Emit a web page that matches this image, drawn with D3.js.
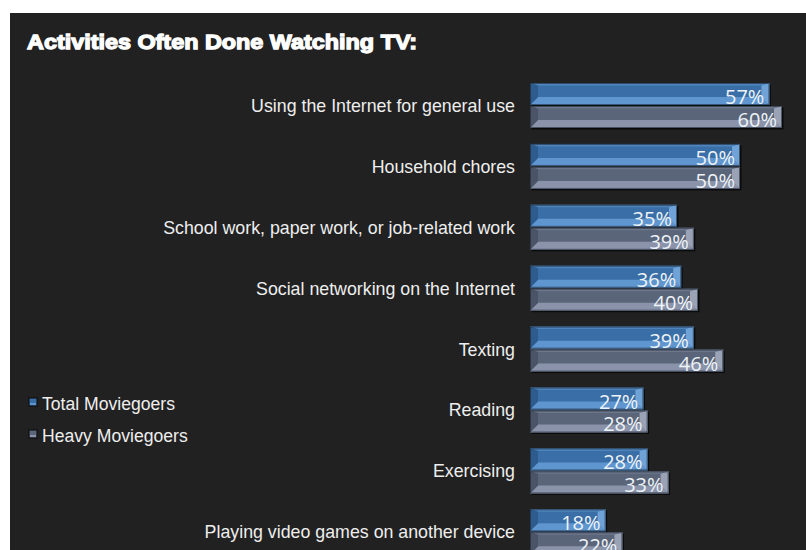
<!DOCTYPE html>
<html>
<head>
<meta charset="utf-8">
<script src="https://cdn.jsdelivr.net/npm/d3@7"></script>
<style>
  html, body { margin: 0; padding: 0; background: #ffffff; }
  svg { display: block; }
</style>
</head>
<body>
<svg id="chart" width="806" height="550"></svg>
<script>
// Activities people often do while watching TV, by moviegoer group (percent)
const categories = [
  "Using the Internet for general use",
  "Household chores",
  "School work, paper work, or job-related work",
  "Social networking on the Internet",
  "Texting",
  "Reading",
  "Exercising",
  "Playing video games on another device"
];
const seriesNames = ["Total Moviegoers", "Heavy Moviegoers"];
const totalMoviegoers = [57, 50, 35, 36, 39, 27, 28, 18];
const heavyMoviegoers = [60, 50, 39, 40, 46, 28, 33, 22];
const titleText = "Activities Often Done Watching TV:";

const W = 806, H = 550;
const svg = d3.select("#chart");

// dark panel
svg.append("rect").attr("x", 10).attr("y", 13).attr("width", W - 10).attr("height", H - 13)
  .attr("fill", "#212121");

// title
svg.append("text")
  .attr("x", 27).attr("y", 49)
  .attr("fill", "#ffffff").attr("stroke", "#ffffff").attr("stroke-width", 1.3)
  .attr("font-family", "'Liberation Sans', Arial, sans-serif")
  .attr("font-weight", 900).attr("font-size", 21)
  .attr("textLength", 390).attr("lengthAdjust", "spacingAndGlyphs")
  .text(titleText);

const x = d3.scaleLinear().domain([0, 60]).range([530, 782]);
const y = d3.scaleBand().domain(categories).range([83, 554.3]).paddingInner(0.261).paddingOuter(0).align(0);
const ySub = d3.scaleBand().domain(seriesNames).range([0, y.bandwidth()]).paddingInner(0.04);

// bevel shades per series
const shades = {
  "Total Moviegoers": { top: "#4f84bb", face: "#3a6ea6", bottom: "#5f96cf", left: "#2d5b8d", right: "#6fa3d8" },
  "Heavy Moviegoers": { top: "#6d778c", face: "#5b6579", bottom: "#8a93a9", left: "#4b5467", right: "#9aa2b6" }
};

const rows = categories.map((c, i) => ({
  cat: c,
  vals: [
    { series: seriesNames[0], v: totalMoviegoers[i] },
    { series: seriesNames[1], v: heavyMoviegoers[i] }
  ]
}));

const groups = svg.append("g").selectAll("g").data(rows).join("g")
  .attr("transform", d => `translate(0,${y(d.cat)})`);

// category labels
groups.append("text")
  .attr("x", 515).attr("y", y.bandwidth() / 2 + 6.5)
  .attr("text-anchor", "end")
  .attr("fill", "#eeeeee")
  .attr("font-family", "'Liberation Sans', Arial, sans-serif")
  .attr("font-size", 17.8)
  .text(d => d.cat);

function bevelBar(g, w, h, s) {
  const b = Math.min(8, w / 2), t = 2.5, bb = 8;
  g.append("rect").attr("x", 1.5).attr("y", 1.5).attr("width", w).attr("height", h).attr("fill", "#0b0b0b");
  g.append("rect").attr("x", 0).attr("y", 0).attr("width", w).attr("height", h).attr("fill", s.face);
  const poly = (pts, fill) => g.append("polygon").attr("points", pts.map(p => p.join(",")).join(" ")).attr("fill", fill);
  poly([[0, 0], [w, 0], [w - b, t], [b, t]], s.top);
  poly([[0, h], [w, h], [w - b, h - bb], [b, h - bb]], s.bottom);
  poly([[0, 0], [b, t], [b, h - bb], [0, h]], s.left);
  poly([[w, 0], [w - b, t], [w - b, h - bb], [w, h]], s.right);
  g.append("rect").attr("x", 0.5).attr("y", 0.5).attr("width", w - 1).attr("height", h - 1)
    .attr("fill", "none").attr("stroke", "#1a2633").attr("stroke-opacity", 0.6).attr("stroke-width", 1);
}

const bars = groups.selectAll("g.bar").data(d => d.vals).join("g")
  .attr("class", "bar")
  .attr("transform", d => `translate(${x(0)},${ySub(d.series)})`);

bars.each(function (d) {
  bevelBar(d3.select(this), x(d.v) - x(0), ySub.bandwidth(), shades[d.series]);
});

bars.append("text")
  .attr("x", d => x(d.v) - x(0) - 5)
  .attr("y", ySub.bandwidth() - 1)
  .attr("text-anchor", "end")
  .attr("fill", "#eef3f8")
  .attr("font-family", "'Open Sans', sans-serif")
  .attr("font-size", 20)
  .text(d => d.v + "%");

// legend
const legend = svg.append("g").selectAll("g").data(seriesNames).join("g")
  .attr("transform", (d, i) => `translate(29,${398 + i * 32})`);
legend.append("rect").attr("width", 8).attr("height", 8)
  .attr("fill", d => shades[d].face).attr("stroke", "#0b0b0b").attr("stroke-width", 1);
legend.append("rect").attr("x", 1).attr("y", 5).attr("width", 6).attr("height", 2)
  .attr("fill", d => shades[d].bottom);
legend.append("text")
  .attr("x", 13).attr("y", 12)
  .attr("fill", "#eeeeee")
  .attr("font-family", "'Liberation Sans', Arial, sans-serif")
  .attr("font-size", 17.6)
  .text(d => d);
</script>
</body>
</html>
